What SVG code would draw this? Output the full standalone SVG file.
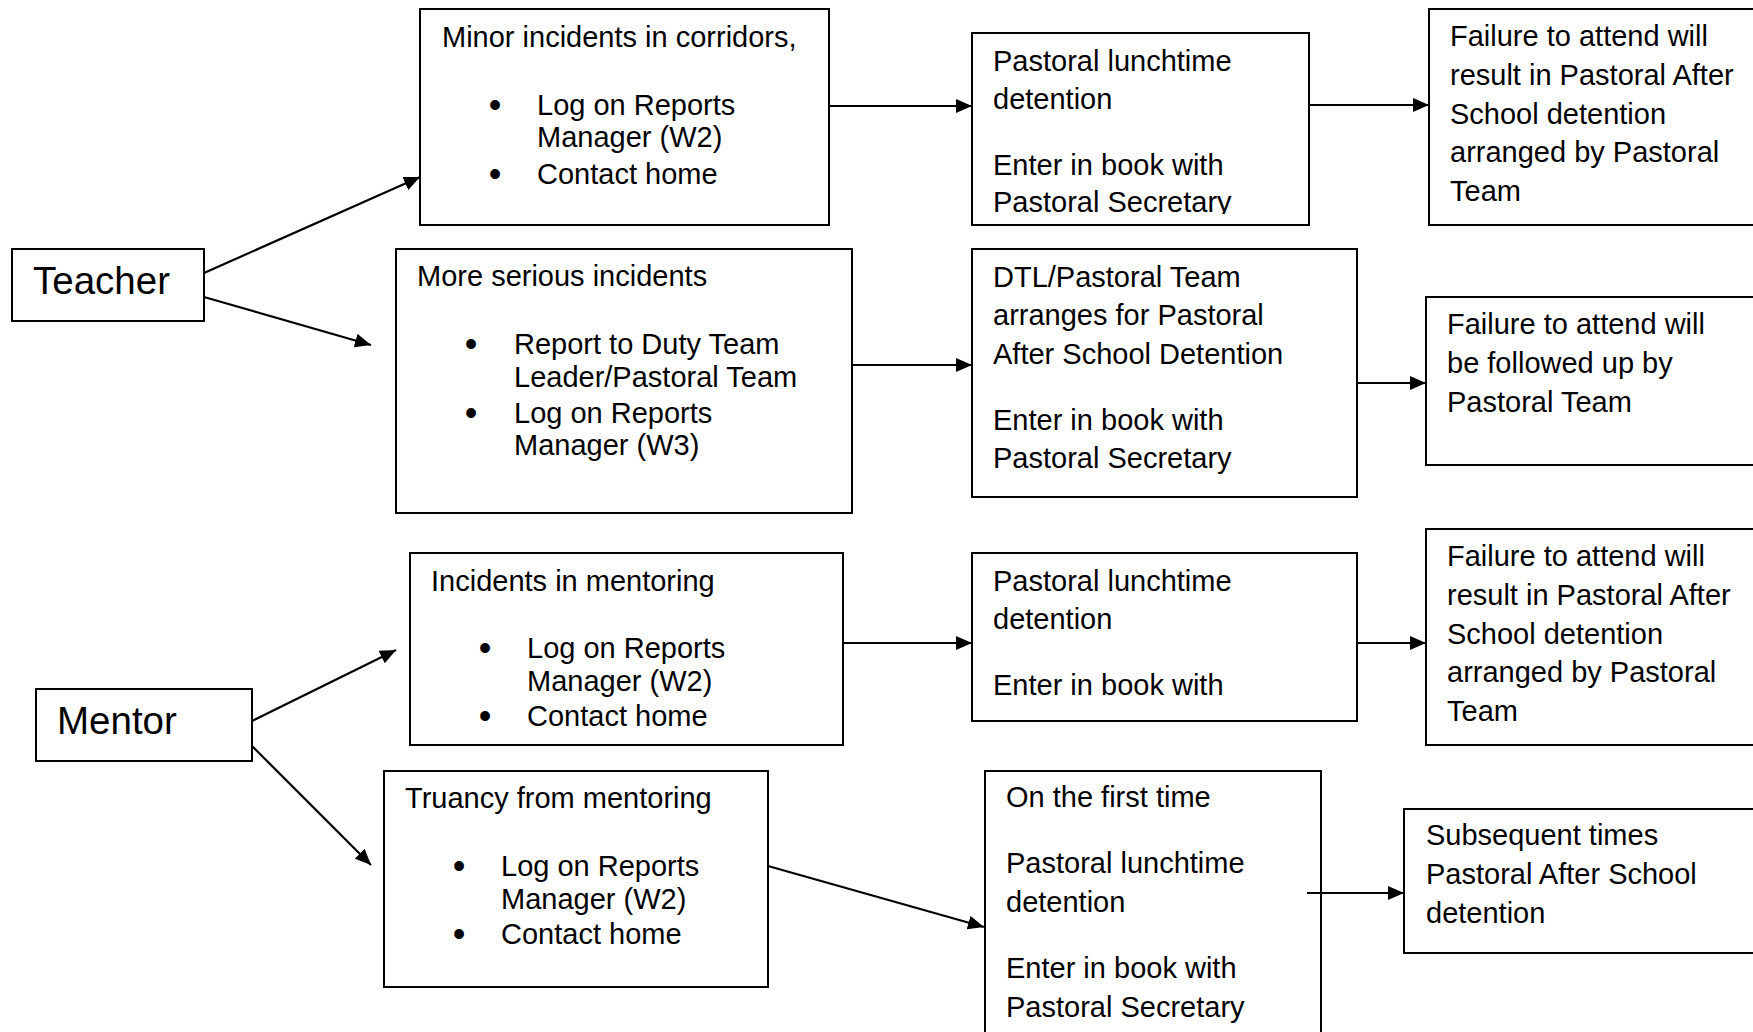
<svg xmlns="http://www.w3.org/2000/svg" width="1753" height="1032" viewBox="0 0 1753 1032">
<style>
.box{fill:#fff;stroke:#000;stroke-width:2}
text{font-family:"Liberation Sans",Arial,sans-serif;font-size:29px;fill:#000}
.big{font-size:38.5px}
.bul{text-anchor:middle;font-size:36px}
.conn line{stroke:#000;stroke-width:2.2;marker-end:url(#ah)}
</style>
<defs>
<marker id="ah" markerUnits="userSpaceOnUse" markerWidth="16" markerHeight="14" refX="16" refY="7" orient="auto">
<path d="M0,0 L16,7 L0,14 z" fill="#000"/>
</marker>
<clipPath id="clip1"><rect x="972" y="33" width="337" height="181"/></clipPath>
</defs>
<rect width="1753" height="1032" fill="#fff"/>

<g id="teacher">
<rect class="box" x="12" y="249" width="192" height="72"/>
<text class="big" x="33" y="294">Teacher</text>
</g>

<g id="mentor">
<rect class="box" x="36" y="689" width="216" height="72"/>
<text class="big" x="57" y="734">Mentor</text>
</g>

<g id="minor">
<rect class="box" x="420" y="9" width="409" height="216"/>
<text x="442" y="47">Minor incidents in corridors,</text>
<text class="bul" x="495" y="117">•</text>
<text x="537" y="115">Log on Reports</text>
<text x="537" y="147">Manager (W2)</text>
<text class="bul" x="495" y="186">•</text>
<text x="537" y="184">Contact home</text>
</g>

<g id="serious">
<rect class="box" x="396" y="249" width="456" height="264"/>
<text x="417" y="286">More serious incidents</text>
<text class="bul" x="471" y="356">•</text>
<text x="514" y="354">Report to Duty Team</text>
<text x="514" y="387">Leader/Pastoral Team</text>
<text class="bul" x="471" y="425">•</text>
<text x="514" y="423">Log on Reports</text>
<text x="514" y="455">Manager (W3)</text>
</g>

<g id="pastoral1">
<rect class="box" x="972" y="33" width="337" height="192"/>
<g clip-path="url(#clip1)">
<text x="993" y="71">Pastoral lunchtime</text>
<text x="993" y="109">detention</text>
<text x="993" y="175">Enter in book with</text>
<text x="993" y="212">Pastoral Secretary</text>
</g>
</g>

<g id="failure1">
<rect class="box" x="1429" y="9" width="340" height="216"/>
<text x="1450" y="46">Failure to attend will</text>
<text x="1450" y="85">result in Pastoral After</text>
<text x="1450" y="124">School detention</text>
<text x="1450" y="162">arranged by Pastoral</text>
<text x="1450" y="201">Team</text>
</g>

<g id="dtl">
<rect class="box" x="972" y="249" width="385" height="248"/>
<text x="993" y="287">DTL/Pastoral Team</text>
<text x="993" y="325">arranges for Pastoral</text>
<text x="993" y="364">After School Detention</text>
<text x="993" y="430">Enter in book with</text>
<text x="993" y="468">Pastoral Secretary</text>
</g>

<g id="failure2">
<rect class="box" x="1426" y="297" width="340" height="168"/>
<text x="1447" y="334">Failure to attend will</text>
<text x="1447" y="373">be followed up by</text>
<text x="1447" y="412">Pastoral Team</text>
</g>

<g id="incidents">
<rect class="box" x="410" y="553" width="433" height="192"/>
<text x="431" y="591">Incidents in mentoring</text>
<text class="bul" x="485" y="660">•</text>
<text x="527" y="658">Log on Reports</text>
<text x="527" y="691">Manager (W2)</text>
<text class="bul" x="485" y="728">•</text>
<text x="527" y="726">Contact home</text>
</g>

<g id="truancy">
<rect class="box" x="384" y="771" width="384" height="216"/>
<text x="405" y="808">Truancy from mentoring</text>
<text class="bul" x="459" y="878">•</text>
<text x="501" y="876">Log on Reports</text>
<text x="501" y="909">Manager (W2)</text>
<text class="bul" x="459" y="946">•</text>
<text x="501" y="944">Contact home</text>
</g>

<g id="pastoral2">
<rect class="box" x="972" y="553" width="385" height="168"/>
<text x="993" y="591">Pastoral lunchtime</text>
<text x="993" y="629">detention</text>
<text x="993" y="695">Enter in book with</text>
</g>

<g id="failure3">
<rect class="box" x="1426" y="529" width="340" height="216"/>
<text x="1447" y="566">Failure to attend will</text>
<text x="1447" y="605">result in Pastoral After</text>
<text x="1447" y="644">School detention</text>
<text x="1447" y="682">arranged by Pastoral</text>
<text x="1447" y="721">Team</text>
</g>

<g id="firsttime">
<rect class="box" x="985" y="771" width="336" height="280"/>
<text x="1006" y="807">On the first time</text>
<text x="1006" y="873">Pastoral lunchtime</text>
<text x="1006" y="912">detention</text>
<text x="1006" y="978">Enter in book with</text>
<text x="1006" y="1017">Pastoral Secretary</text>
</g>

<g id="subsequent">
<rect class="box" x="1404" y="809" width="360" height="144"/>
<text x="1426" y="845">Subsequent times</text>
<text x="1426" y="884">Pastoral After School</text>
<text x="1426" y="923">detention</text>
</g>

<g id="connectors" class="conn">
<line x1="204" y1="273" x2="420" y2="177"/>
<line x1="204" y1="297" x2="371" y2="345"/>
<line x1="829" y1="106" x2="972" y2="106"/>
<line x1="1309" y1="105" x2="1429" y2="105"/>
<line x1="852" y1="365" x2="972" y2="365"/>
<line x1="1357" y1="383" x2="1426" y2="383"/>
<line x1="252" y1="721" x2="396" y2="650"/>
<line x1="252" y1="746" x2="371" y2="865"/>
<line x1="843" y1="643" x2="972" y2="643"/>
<line x1="1357" y1="643" x2="1426" y2="643"/>
<line x1="768" y1="866" x2="984" y2="927"/>
<line x1="1307" y1="893" x2="1404" y2="893"/>
</g>
</svg>
